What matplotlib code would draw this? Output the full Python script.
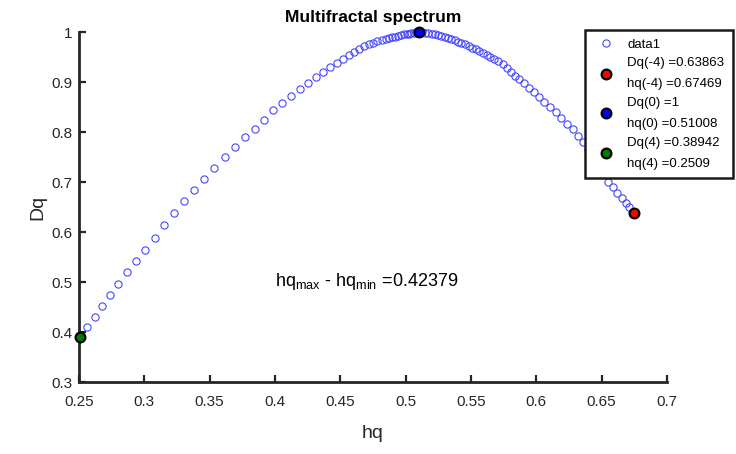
import matplotlib.pyplot as plt

plt.rcParams['font.family'] = ['Liberation Sans', 'DejaVu Sans']
plt.rcParams['mathtext.fontset'] = 'custom'
plt.rcParams['mathtext.rm'] = 'Liberation Sans'
plt.rcParams['mathtext.it'] = 'Liberation Sans'

# multifractal spectrum, running from q = 4 (left) over q = 0 (top) to q = -4 (right)
hq = [0.2509, 0.2564, 0.2620, 0.2678, 0.2737, 0.2801, 0.2865, 0.2934, 0.3003,
      0.3078, 0.3153, 0.3227, 0.3304, 0.3380, 0.3457, 0.3535, 0.3615, 0.3694,
      0.3770, 0.3845, 0.3916, 0.3987, 0.4056, 0.4122, 0.4189, 0.4250, 0.4311,
      0.4365, 0.4421, 0.4472, 0.4518, 0.4566, 0.4607, 0.4645, 0.4683, 0.4719,
      0.4752, 0.4783, 0.4817, 0.4846, 0.4872, 0.4898, 0.4922, 0.4945, 0.4967,
      0.4987, 0.5007, 0.5025, 0.5044, 0.5061, 0.5077, 0.5090, 0.51008,
      0.5126, 0.5149, 0.5174, 0.5198, 0.5223, 0.5247, 0.5273, 0.5298, 0.5323,
      0.5349, 0.5375, 0.5401, 0.5427, 0.5454, 0.5481, 0.5508, 0.5535, 0.5563,
      0.5590, 0.5619, 0.5647, 0.5675, 0.5704, 0.5743, 0.5773, 0.5804, 0.5837,
      0.5870, 0.5906, 0.5944, 0.5982, 0.6020, 0.6061, 0.6105, 0.6148, 0.6189,
      0.6232, 0.6278, 0.6319, 0.6357, 0.6395, 0.6434, 0.6472, 0.6510, 0.6551,
      0.6589, 0.6620, 0.6653, 0.6686, 0.6711, 0.67469]
dq = [0.38942, 0.4094, 0.4306, 0.4520, 0.4746, 0.4966, 0.5194, 0.5426, 0.5640,
      0.5888, 0.6136, 0.6386, 0.6620, 0.6840, 0.7066, 0.7286, 0.7500, 0.7706,
      0.7900, 0.8070, 0.8250, 0.8440, 0.8586, 0.8720, 0.8860, 0.8980, 0.9094,
      0.9194, 0.9294, 0.9386, 0.9460, 0.9534, 0.9600, 0.9660, 0.9714, 0.9754,
      0.9786, 0.9814, 0.9834, 0.9856, 0.9876, 0.9894, 0.9910, 0.9926, 0.9940,
      0.9952, 0.9962, 0.9970, 0.9978, 0.9986, 0.9992, 0.9996, 1.0,
      0.9997, 0.9990, 0.9980, 0.9968, 0.9956, 0.9940, 0.9922, 0.9902, 0.9882,
      0.9860, 0.9834, 0.9808, 0.9782, 0.9752, 0.9722, 0.9688, 0.9654, 0.9618,
      0.9582, 0.9542, 0.9502, 0.9458, 0.9414, 0.9354, 0.9286, 0.9206, 0.9126,
      0.9054, 0.8974, 0.8886, 0.8800, 0.8706, 0.8606, 0.8506, 0.8394, 0.8286,
      0.8166, 0.8060, 0.7930, 0.7800, 0.7640, 0.7480, 0.7320, 0.7160, 0.7006,
      0.6894, 0.6774, 0.6674, 0.6574, 0.6494, 0.63863]

# highlighted points
q_marks = [-4, 0, 4]
hq_marks = [0.67469, 0.51008, 0.2509]
dq_marks = [0.63863, 1.0, 0.38942]
mark_colors = ['#ff0000', '#0000ff', '#008000']

xticks = [0.25, 0.3, 0.35, 0.4, 0.45, 0.5, 0.55, 0.6, 0.65, 0.7]
yticks = [0.3, 0.4, 0.5, 0.6, 0.7, 0.8, 0.9, 1.0]

dark = '#262626'

fig = plt.figure(figsize=(7.36, 4.54), dpi=100)
ax = fig.add_axes([79 / 736, 72 / 454, 588 / 736, 350 / 454])

ax.plot(hq, dq, 'o', linestyle='none', markersize=5.2, markerfacecolor='none',
        markeredgecolor='#4646ff', markeredgewidth=0.8, label='data1', clip_on=False)

for q, h, d, c in zip(q_marks, hq_marks, dq_marks, mark_colors):
    ax.plot(h, d, 'o', markersize=7, markerfacecolor=c, markeredgecolor='black',
            markeredgewidth=1.6, clip_on=False, zorder=5,
            label=f'Dq({q}) ={d:.5g}\nhq({q}) ={h:.5g}')

width = max(hq_marks) - min(hq_marks)
ax.text(0.4, 0.5, r'hq$_{\mathrm{max}}$ - hq$_{\mathrm{min}}$ =' + f'{width:.5g}',
        fontsize=13, color='black', ha='left', va='center')

ax.set_xlim(0.25, 0.7)
ax.set_ylim(0.3, 1.0)
ax.set_xticks(xticks)
ax.set_xticklabels([f'{v:g}' for v in xticks])
ax.set_yticks(yticks)
ax.set_yticklabels([f'{v:g}' for v in yticks])

for side in ['top', 'right']:
    ax.spines[side].set_visible(False)
for side in ['left', 'bottom']:
    ax.spines[side].set_linewidth(2)
    ax.spines[side].set_color(dark)
ax.tick_params(direction='in', length=5, width=1.6, colors=dark,
               labelsize=11, labelcolor=dark)
ax.tick_params(axis='x', pad=9)
ax.tick_params(axis='y', pad=5)

ax.set_title('Multifractal spectrum', fontsize=12.5, fontweight='bold', pad=7)
ax.set_xlabel('hq', fontsize=14, color=dark, labelpad=12)
ax.set_ylabel('Dq', fontsize=14, color=dark, labelpad=3)

leg = fig.legend(loc='upper right', bbox_to_anchor=(733 / 736, 1 - 30 / 454),
                 fontsize=9.5, frameon=True, fancybox=False, framealpha=1,
                 edgecolor='#1a1a1a', handlelength=2.0, handletextpad=0.6,
                 labelspacing=0.5, borderpad=0.65, borderaxespad=0)
leg.get_frame().set_linewidth(1.8)
for t in leg.get_texts():
    t.set_linespacing(2.0)

fig.savefig('out.png', dpi=100)
